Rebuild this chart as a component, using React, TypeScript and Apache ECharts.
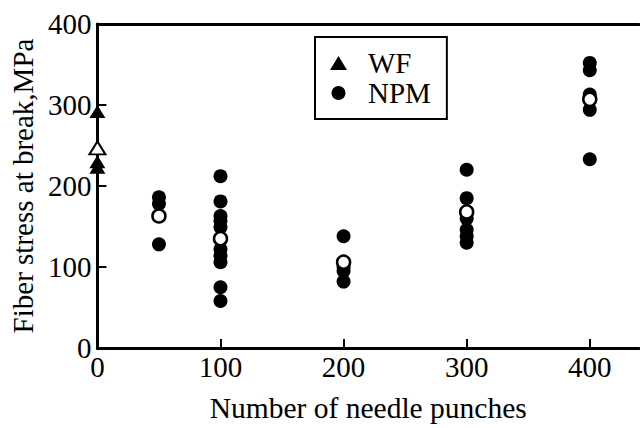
import React, { useEffect, useRef } from "react";
import * as echarts from "echarts";

const FONT = '"Liberation Serif", "Times New Roman", serif';

// WF (x = 0)
const wfX = 0;
const wfValues = [292, 230, 223];
const wfMean = 247;

// NPM groups
const npmX = [50, 100, 200, 300, 400];
const npm50 = [186, 178, 128];
const npm100 = [212, 181, 163, 157, 149, 122, 114, 106, 75, 58];
const npm200 = [138, 100, 95, 82];
const npm300 = [220, 185, 160, 146, 138, 130];
const npm400 = [352, 343, 313, 294, 233];
const npmGroups = [npm50, npm100, npm200, npm300, npm400];
const npmMeans = [163, 135, 106, 168, 307];

const xTicks = [0, 100, 200, 300, 400];

export default function App() {
  const ref = useRef<HTMLDivElement>(null);
  useEffect(() => {
    if (!ref.current) return;
    const chart = echarts.init(ref.current, null, { renderer: "svg" });
    const npmData: number[][] = [];
    npmGroups.forEach((g, i) => g.forEach((v) => npmData.push([npmX[i], v])));
    const npmMeanData = npmMeans.map((v, i) => [npmX[i], v]);
    const wfData = wfValues.map((v) => [wfX, v]);

    chart.setOption({
      animation: false,
      backgroundColor: "#fff",
      textStyle: { fontFamily: FONT, color: "#000" },
      grid: { left: 93, top: 24, width: 546, height: 325, containLabel: false },
      legend: {
        left: 315,
        top: 37,
        orient: "vertical",
        padding: [11, 16, 11, 15],
        itemGap: 0,
        itemWidth: 17,
        itemHeight: 14,
        borderColor: "#000",
        borderWidth: 2,
        selectedMode: false,
        data: [
          { name: "WF", icon: "triangle", itemStyle: { color: "#000", opacity: 1 } },
          { name: "NPM", icon: "circle", itemStyle: { color: "#000", opacity: 1 } },
        ],
        textStyle: {
          fontFamily: FONT,
          fontSize: 29,
          color: "#000",
          lineHeight: 30,
          padding: [0, 0, 0, 16],
        },
      },
      xAxis: [
        {
          type: "value",
          min: 0,
          max: 440,
          interval: 100,
          name: "Number of needle punches",
          nameLocation: "middle",
          nameGap: 45,
          nameTextStyle: { fontFamily: FONT, fontSize: 29.5, color: "#000" },
          axisLine: { show: true, lineStyle: { color: "#000", width: 3 } },
          axisTick: {
            show: true,
            inside: true,
            length: 9,
            customValues: xTicks,
            lineStyle: { color: "#000", width: 2 },
          },
          axisLabel: {
            customValues: xTicks,
            margin: 4,
            fontFamily: FONT,
            fontSize: 29,
            color: "#000",
          },
          splitLine: { show: false },
        },
        {
          type: "value",
          position: "top",
          min: 0,
          max: 440,
          axisLine: { show: true, onZero: false, lineStyle: { color: "#000", width: 3 } },
          axisTick: { show: false },
          axisLabel: { show: false },
          splitLine: { show: false },
        },
      ],
      yAxis: {
        type: "value",
        min: 0,
        max: 400,
        interval: 100,
        name: "Fiber stress at break,MPa",
        nameLocation: "middle",
        nameGap: 51,
        nameTextStyle: { fontFamily: FONT, fontSize: 29, color: "#000" },
        axisLine: { show: true, lineStyle: { color: "#000", width: 3 } },
        axisTick: { show: true, inside: true, length: 9, lineStyle: { color: "#000", width: 2 } },
        axisLabel: { margin: 6, fontFamily: FONT, fontSize: 29, color: "#000" },
        splitLine: { show: false },
      },
      series: [
        {
          name: "WF",
          type: "scatter",
          symbol: "triangle",
          symbolSize: [16, 13],
          clip: false,
          itemStyle: { color: "#000", opacity: 1 },
          data: wfData,
          z: 3,
        },
        {
          name: "WF mean",
          type: "scatter",
          symbol: "triangle",
          symbolSize: [16, 13],
          clip: false,
          itemStyle: { color: "#fff", borderColor: "#000", borderWidth: 2, opacity: 1 },
          data: [[wfX, wfMean]],
          z: 4,
        },
        {
          name: "NPM",
          type: "scatter",
          symbol: "circle",
          symbolSize: 14,
          clip: false,
          itemStyle: { color: "#000", opacity: 1 },
          data: npmData,
          z: 3,
        },
        {
          name: "NPM mean",
          type: "scatter",
          symbol: "circle",
          symbolSize: 13,
          clip: false,
          itemStyle: { color: "#fff", borderColor: "#000", borderWidth: 2.5, opacity: 1 },
          data: npmMeanData,
          z: 4,
        },
      ],
    });
    return () => chart.dispose();
  }, []);
  return (
    <div
      ref={ref}
      style={{ position: "fixed", left: 0, top: 0, width: 640, height: 428 }}
    />
  );
}
